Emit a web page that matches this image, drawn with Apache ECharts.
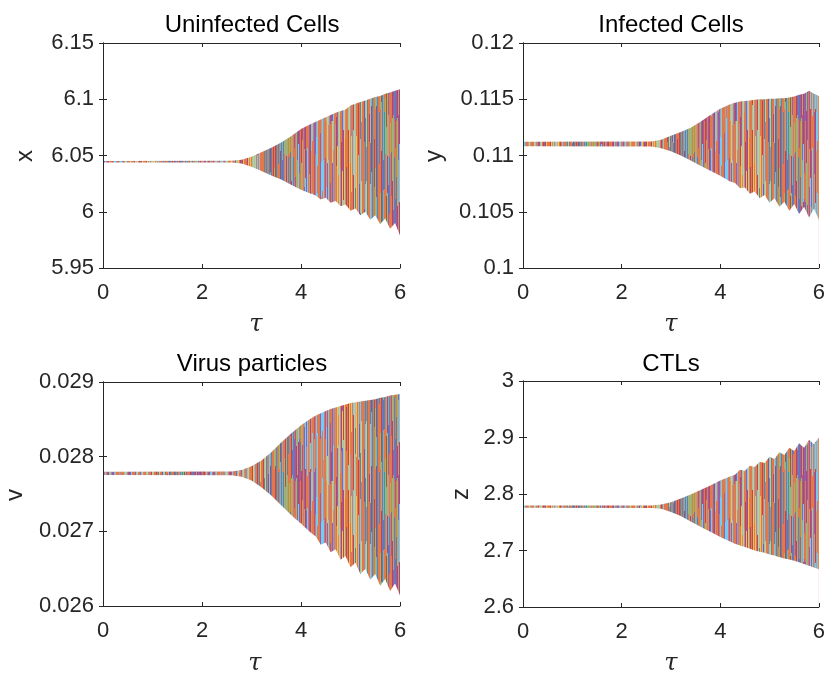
<!DOCTYPE html>
<html>
<head>
<meta charset="utf-8">
<script src="https://cdn.jsdelivr.net/npm/echarts@6/dist/echarts.min.js"></script>
<style>
html,body{margin:0;padding:0;background:#fff;}
#c{width:828px;height:678px;}
</style>
</head>
<body>
<div id="c"></div>
<script>
// sampled delay values (tau)
const tau = [0, 2.6, 2.8, 3.0, 3.2, 3.4, 3.6, 3.8, 4.0, 4.2, 4.3, 4.4, 4.5, 4.6, 4.7, 4.8, 4.9, 5.0, 5.1, 5.2, 5.3, 5.4, 5.5, 5.6, 5.7, 5.8, 5.9, 6.0];
// envelope (max / min) of the plotted trajectories
const xUpper = [6.0452, 6.0453, 6.0462, 6.0490, 6.0530, 6.0568, 6.0615, 6.0672, 6.0735, 6.0780, 6.0800, 6.0820, 6.0840, 6.0860, 6.0880, 6.0895, 6.0910, 6.0945, 6.0960, 6.0975, 6.0990, 6.1005, 6.1020, 6.1030, 6.1050, 6.1060, 6.1075, 6.1090];
const xLower = [6.0438, 6.0437, 6.0428, 6.0400, 6.0362, 6.0322, 6.0286, 6.0240, 6.0195, 6.0160, 6.0145, 6.0110, 6.0125, 6.0080, 6.0095, 6.0050, 6.0065, 6.0010, 6.0030, 5.9970, 6.0000, 5.9930, 5.9970, 5.9890, 5.9940, 5.9850, 5.9900, 5.9790];
const yUpper = [0.11122, 0.11124, 0.1114, 0.11175, 0.1121, 0.11247, 0.1130, 0.1136, 0.11415, 0.11455, 0.1147, 0.1148, 0.11485, 0.1149, 0.11495, 0.1150, 0.1150, 0.11505, 0.11505, 0.1151, 0.1151, 0.11515, 0.11525, 0.1154, 0.1155, 0.11575, 0.1155, 0.1153];
const yLower = [0.11082, 0.1108, 0.11065, 0.11038, 0.1100, 0.10955, 0.1091, 0.10865, 0.1082, 0.1077, 0.10755, 0.1071, 0.10715, 0.1066, 0.1068, 0.1062, 0.1065, 0.1058, 0.1062, 0.10545, 0.1059, 0.1051, 0.1057, 0.1048, 0.10545, 0.1045, 0.1053, 0.1043];
const vUpper = [0.027798, 0.0278, 0.02782, 0.02787, 0.02795, 0.02806, 0.02819, 0.02831, 0.02842, 0.02851, 0.02855, 0.02858, 0.02861, 0.02864, 0.02866, 0.02868, 0.0287, 0.02872, 0.02873, 0.02874, 0.02875, 0.02876, 0.02877, 0.02879, 0.0288, 0.02882, 0.02883, 0.02884];
const vLower = [0.027754, 0.027752, 0.02773, 0.02768, 0.02759, 0.02748, 0.02735, 0.02722, 0.0271, 0.02698, 0.02693, 0.02682, 0.02685, 0.02672, 0.02676, 0.02662, 0.02667, 0.02652, 0.02658, 0.02643, 0.0265, 0.02635, 0.02643, 0.02627, 0.02636, 0.0262, 0.0263, 0.02614];
const zUpper = [2.7796, 2.7798, 2.7815, 2.7855, 2.792, 2.799, 2.807, 2.815, 2.824, 2.831, 2.834, 2.843, 2.841, 2.850, 2.848, 2.857, 2.855, 2.866, 2.862, 2.874, 2.869, 2.882, 2.876, 2.890, 2.882, 2.896, 2.888, 2.900];
const zLower = [2.7756, 2.7754, 2.7737, 2.7683, 2.761, 2.7515, 2.742, 2.733, 2.724, 2.716, 2.712, 2.709, 2.706, 2.703, 2.700, 2.698, 2.696, 2.693, 2.691, 2.688, 2.686, 2.684, 2.682, 2.679, 2.676, 2.673, 2.670, 2.667];

const titles = ['Uninfected Cells', 'Infected Cells', 'Virus particles', 'CTLs'];
const yNames = ['x', 'y', 'v', 'z'];
const yMin = [5.95, 0.1, 0.026, 2.6];
const yMax = [6.15, 0.12, 0.029, 3.0];
const yStep = [0.05, 0.005, 0.001, 0.1];

const uppers = [xUpper, yUpper, vUpper, zUpper];
const lowers = [xLower, yLower, vLower, zLower];

// MATLAB default line colours (plus blended greys) used for the streak texture of the dense band
const SEQ = ['#D95319','#4DBEEE','#A2142F','#D95319','#9C8476','#7E2F8E','#D95319','#EDB120','#D95319','#0072BD',
             '#A2142F','#D95319','#8E7A8C','#4DBEEE','#D95319','#7E2F8E','#A88068','#D95319','#EDB120','#A2142F',
             '#D95319','#4DBEEE','#7E2F8E','#D95319','#0072BD','#77AC30'];
function makePattern() {
  const W = 101, H = 120;
  const c = document.createElement('canvas');
  c.width = W; c.height = H;
  const g = c.getContext('2d');
  g.fillStyle = '#fff'; g.fillRect(0, 0, W, H);
  g.globalAlpha = 0.78;
  for (let x = 0; x < W; x++) {
    const a = (x * 5 + (x >> 2)) % SEQ.length;
    const b = (x * 5 + 11 + (x >> 2)) % SEQ.length;
    const off = (x * 29) % H;
    const len = 25 + (x * 13) % 45;
    g.fillStyle = SEQ[a]; g.fillRect(x, 0, 1, H);
    g.fillStyle = '#fff'; g.globalAlpha = 1;
    g.fillRect(x, off, 1, len); g.fillRect(x, off - H, 1, len);
    g.globalAlpha = 0.78; g.fillStyle = SEQ[b];
    g.fillRect(x, off, 1, len); g.fillRect(x, off - H, 1, len);
  }
  return c;
}
const pat = { image: makePattern(), repeat: 'repeat' };

const grids = [
  { left: 103, top: 43, width: 297, height: 225 },
  { left: 523, top: 43, width: 297, height: 225 },
  { left: 103, top: 382, width: 297, height: 224 },
  { left: 523, top: 381, width: 297, height: 226 }
];
const AX = '#262626';
const FONT = '"Liberation Sans", Arial, Helvetica, sans-serif';
const fmt = v => String(parseFloat((+v).toFixed(4)));

const xAxis = [], yAxis = [], series = [];
grids.forEach((g, i) => {
  const common = {
    gridIndex: i, type: 'value', z: 10,
    axisLine: { show: true, lineStyle: { color: AX, width: 1 } },
    axisTick: { show: true, inside: true, length: 4, lineStyle: { color: AX, width: 1 } },
    splitLine: { show: false }
  };
  xAxis.push(Object.assign({}, common, {
    position: 'bottom', min: 0, max: 6, interval: 2,
    axisLabel: { show: true, color: AX, fontSize: 22, fontFamily: FONT, margin: 14, lineHeight: 22, formatter: fmt }
  }));
  xAxis.push(Object.assign({}, common, {
    position: 'top', min: 0, max: 6, interval: 2, axisLabel: { show: false }
  }));
  yAxis.push(Object.assign({}, common, {
    position: 'left', min: yMin[i], max: yMax[i], interval: yStep[i],
    axisLabel: { show: true, color: AX, fontSize: 22, fontFamily: FONT, margin: 9, lineHeight: 22, formatter: fmt }
  }));
  yAxis.push(Object.assign({}, common, {
    position: 'right', min: yMin[i], max: yMax[i], interval: yStep[i], axisLabel: { show: false }
  }));
  series.push({
    type: 'line', xAxisIndex: 2 * i, yAxisIndex: 2 * i, z: 1,
    data: tau.map((t, k) => [t, uppers[i][k]]),
    showSymbol: false, silent: true, animation: false,
    lineStyle: { width: 0, opacity: 0 },
    areaStyle: { origin: 'start', color: pat, opacity: 1 }
  });
  series.push({
    type: 'line', xAxisIndex: 2 * i, yAxisIndex: 2 * i, z: 2,
    data: tau.map((t, k) => [t, lowers[i][k]]),
    showSymbol: false, silent: true, animation: false,
    lineStyle: { width: 0, opacity: 0 },
    areaStyle: { origin: 'start', color: '#ffffff', opacity: 1 }
  });
});

const graphic = [];
const titlePos = [[252, 25], [671, 25], [252, 364], [671, 364]];
const yNamePos = [[25, 156], [434, 156], [15, 495], [461, 494]];
const tauPos = [[256, 325], [671, 325], [255, 664], [671, 664]];
for (let i = 0; i < 4; i++) {
  graphic.push({ type: 'text', x: titlePos[i][0], y: titlePos[i][1], z: 20,
    style: { text: titles[i], fill: '#000', fontSize: 24, fontFamily: FONT, align: 'center', verticalAlign: 'middle' } });
  graphic.push({ type: 'text', x: yNamePos[i][0], y: yNamePos[i][1], rotation: Math.PI / 2, z: 20,
    style: { text: yNames[i], fill: AX, fontSize: 24, fontFamily: FONT, align: 'center', verticalAlign: 'middle' } });
  graphic.push({ type: 'text', x: tauPos[i][0], y: tauPos[i][1], z: 20,
    style: { text: 'τ', fill: AX, fontSize: 24, fontStyle: 'italic', fontFamily: '"DejaVu Serif", "Liberation Serif", serif', align: 'center', verticalAlign: 'middle' } });
}

const chart = echarts.init(document.getElementById('c'), null, { renderer: 'canvas' });
chart.setOption({
  animation: false,
  backgroundColor: '#fff',
  grid: grids,
  xAxis: xAxis,
  yAxis: yAxis,
  series: series,
  graphic: graphic
});
</script>
</body>
</html>
